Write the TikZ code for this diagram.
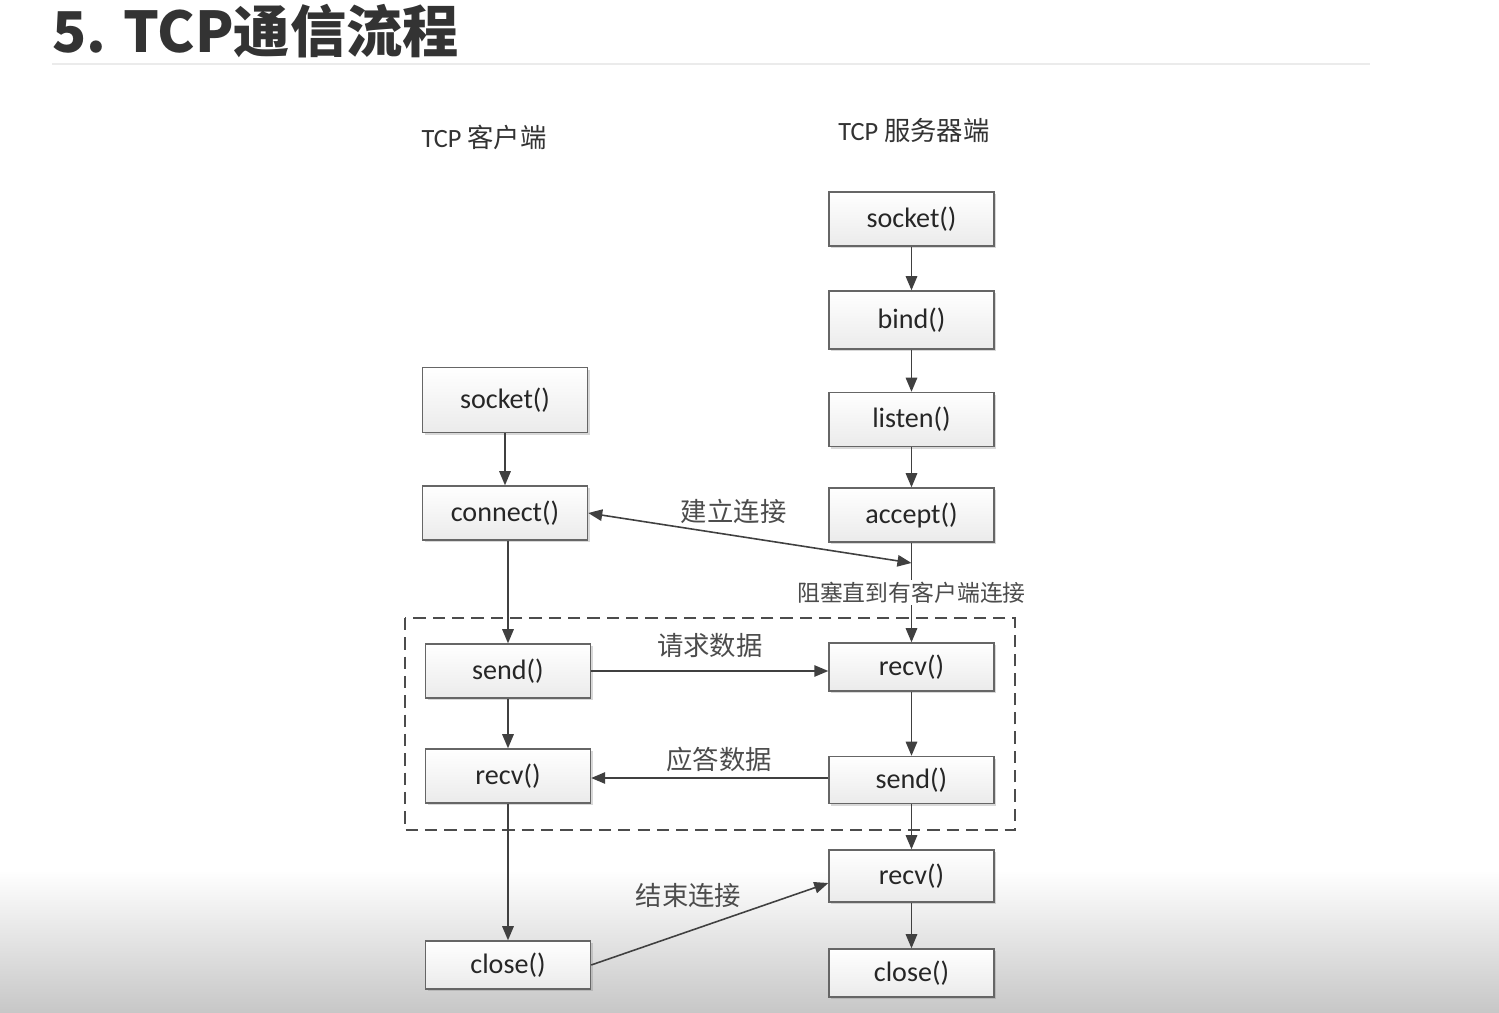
\documentclass[tikz,border=0pt]{standalone}
\usepackage{fontspec}
\setmainfont{Carlito}
\newfontfamily\cjk{Noto Sans CJK SC}
\usetikzlibrary{arrows.meta,shadows}

\begin{document}
\begin{tikzpicture}[x=0.02cm, y=-0.02cm,
    func/.style={draw=black!60, line width=0.8pt, top color=white, bottom color=black!8,
      drop shadow={shadow xshift=1.3pt, shadow yshift=-1.3pt, opacity=0.3},
      minimum width=3.3cm, minimum height=1.08cm, inner sep=2pt,
      font=\fontsize{16}{18}\selectfont, text=black!85},
    flow/.style={draw=black!75, line width=0.9pt, -{Triangle[length=8pt,width=6.5pt]}},
    lbl/.style={font=\cjk\fontsize{15}{17}\selectfont, text=black!70},
    head/.style={font=\fontsize{15}{17}\selectfont, text=black!80}]
    \useasboundingbox (0,0) rectangle (1499,1013);
    \fill[white] (0,0) rectangle (1499,1013);
    \shade[top color=white, bottom color=black!22] (0,870) rectangle (1499,1013);

    % Title
    \node[anchor=west, font=\cjk\bfseries\fontsize{32}{36}\selectfont, text=black!80, inner sep=0pt] (title) at (52,31) {5. TCP通信流程};
    \draw[black!8, line width=0.8pt] (52,64) -- (1370,64);

    % Column headers
    \node[head] (chead) at (484,137) {TCP {\cjk 客户端}};
    \node[head] (shead) at (914,131) {TCP {\cjk 服务器端}};

    % Request / response block
    \draw[dashed, black!70, line width=0.9pt, dash pattern=on 7pt off 4pt] (405,618) rectangle (1015,830);

    % Client side
    \node[func, minimum height=1.3cm] (csock) at (505,400) {socket()};
    \node[func] (conn)  at (505,513) {connect()};
    \node[func] (csend) at (508,671) {send()};
    \node[func] (crecv) at (508,776) {recv()};
    \node[func, minimum height=0.96cm] (cclose) at (508,965) {close()};

    % Server side
    \node[func] (ssock)  at (911.5,219) {socket()};
    \node[func, minimum height=1.16cm] (bind) at (911.5,320) {bind()};
    \node[func] (listen) at (911.5,419.5) {listen()};
    \node[func] (accept) at (911.5,515) {accept()};
    \node[func, minimum height=0.96cm] (srecv)  at (911.5,667) {recv()};
    \node[func, minimum height=0.94cm] (ssend)  at (911.5,780) {send()};
    \node[func, minimum height=1.04cm] (srecvb) at (911.5,876) {recv()};
    \node[func, minimum height=0.96cm] (sclose) at (911.5,973) {close()};

    % Client flow
    \draw[flow] (csock) -- (conn);
    \draw[flow] (conn.south -| csend.north) -- (csend);
    \draw[flow] (csend) -- (crecv);
    \draw[flow] (crecv) -- (cclose);

    % Server flow
    \draw[flow] (ssock) -- (bind);
    \draw[flow] (bind) -- (listen);
    \draw[flow] (listen) -- (accept);
    \draw[flow] (accept) -- node[fill=white, inner sep=1pt, lbl, font=\cjk\fontsize{13}{15}\selectfont] (block) {阻塞直到有客户端连接} (srecv);
    \draw[flow] (srecv) -- (ssend);
    \draw[flow] (ssend) -- (srecvb);
    \draw[flow] (srecvb) -- (sclose);

    % Between client and server
    \coordinate (meet) at (911.5,563);
    \draw[flow, {Triangle[length=8pt,width=6.5pt]}-{Triangle[length=8pt,width=6.5pt]}] (conn.east) -- node[pos=0.45, above=3pt, lbl] (est) {建立连接} (meet);
    \draw[flow] (csend.east) -- node[above=4pt, lbl] (req) {请求数据} (srecv.west |- csend.east);
    \draw[flow] (ssend.west |- 0,778) -- node[pos=0.46, above=0pt, lbl] (resp) {应答数据} (crecv.east |- 0,778);
    \draw[flow] (cclose.east) -- node[pos=0.41, above=10pt, lbl] (fin) {结束连接} ([yshift=-4pt]srecvb.west);
\end{tikzpicture}
\end{document}
